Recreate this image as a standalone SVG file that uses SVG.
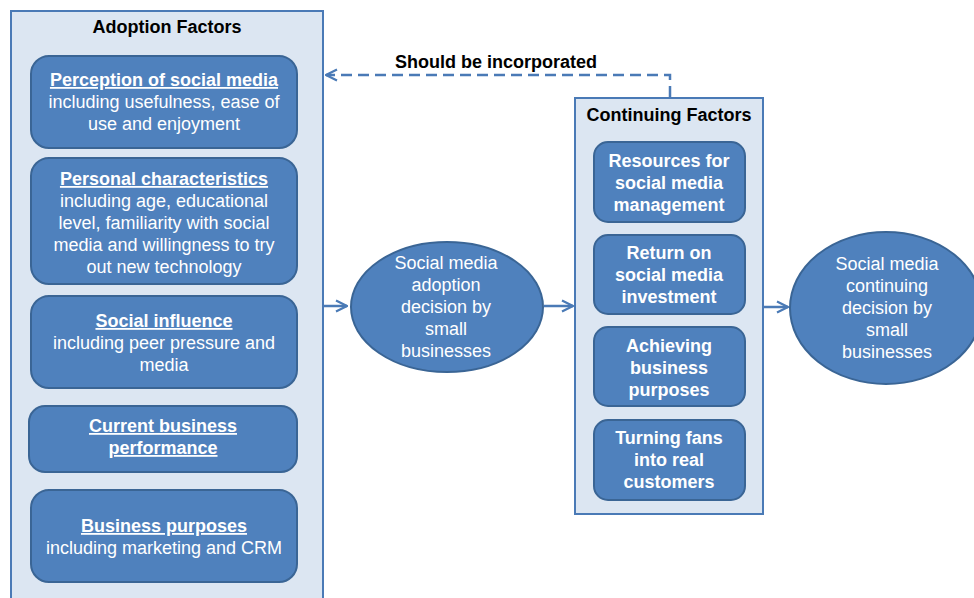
<svg xmlns="http://www.w3.org/2000/svg" width="974" height="598" viewBox="0 0 974 598">
  <style>
    .panel { fill: #dce6f2; stroke: #4a7ab6; stroke-width: 2; }
    .box { fill: #4f81bd; stroke: #3a6595; stroke-width: 2; }
    .oval { fill: #4f81bd; stroke: #3a6595; stroke-width: 2; }
    text { font-family: "Liberation Sans", Arial, sans-serif; font-size: 18px; text-anchor: middle; }
    .head { font-weight: bold; fill: #000; }
    .w { fill: #fff; }
    .b { font-weight: bold; }
    .u { font-weight: bold; text-decoration: underline; }
    .link { fill: none; stroke: #4a7ab6; stroke-width: 2.5; }
    .dash { stroke-dasharray: 11 6; }
  </style>
  <defs>
    <marker id="chev" viewBox="0 0 10 10" refX="9" refY="5" markerWidth="5.5" markerHeight="5.5" orient="auto" markerUnits="strokeWidth">
      <path d="M1,1 L9,5 L1,9" fill="none" stroke="#4a7ab6" stroke-width="1.6"/>
    </marker>
  </defs>

  <!-- Adoption factors panel -->
  <g id="adoption-factors">
    <rect class="panel" x="11" y="11" width="312" height="600"/>
    <text class="head" x="167" y="33">Adoption Factors</text>
  </g>
  <g id="perception">
    <rect class="box" x="31" y="56" width="266" height="92" rx="18"/>
    <text class="w u" x="164" y="86">Perception of social media</text>
    <text class="w" x="164" y="108">including usefulness, ease of</text>
    <text class="w" x="164" y="130">use and enjoyment</text>
  </g>
  <g id="personal">
    <rect class="box" x="31" y="158" width="266" height="126" rx="18"/>
    <text class="w u" x="164" y="185">Personal characteristics</text>
    <text class="w" x="164" y="207">including age, educational</text>
    <text class="w" x="164" y="229">level, familiarity with social</text>
    <text class="w" x="164" y="251">media and willingness to try</text>
    <text class="w" x="164" y="273">out new technology</text>
  </g>
  <g id="social-influence">
    <rect class="box" x="31" y="296" width="266" height="92" rx="18"/>
    <text class="w u" x="164" y="327">Social influence</text>
    <text class="w" x="164" y="349">including peer pressure and</text>
    <text class="w" x="164" y="371">media</text>
  </g>
  <g id="performance">
    <rect class="box" x="29" y="406" width="268" height="66" rx="16"/>
    <text class="w u" x="163" y="432">Current business</text>
    <text class="w u" x="163" y="454">performance</text>
  </g>
  <g id="purposes">
    <rect class="box" x="31" y="490" width="266" height="92" rx="18"/>
    <text class="w u" x="164" y="532">Business purposes</text>
    <text class="w" x="164" y="554">including marketing and CRM</text>
  </g>

  <!-- Decision ovals -->
  <g id="adoption-decision">
    <ellipse class="oval" cx="447" cy="307" rx="96" ry="65"/>
    <text class="w" x="446" y="269">Social media</text>
    <text class="w" x="446" y="291">adoption</text>
    <text class="w" x="446" y="313">decision by</text>
    <text class="w" x="446" y="335">small</text>
    <text class="w" x="446" y="357">businesses</text>
  </g>
  <g id="continuing-decision">
    <ellipse class="oval" cx="886" cy="308" rx="96" ry="76"/>
    <text class="w" x="887" y="270">Social media</text>
    <text class="w" x="887" y="292">continuing</text>
    <text class="w" x="887" y="314">decision by</text>
    <text class="w" x="887" y="336">small</text>
    <text class="w" x="887" y="358">businesses</text>
  </g>

  <!-- Continuing factors panel -->
  <g id="continuing-factors">
    <rect class="panel" x="575" y="98" width="188" height="416"/>
    <text class="head" x="669" y="121">Continuing Factors</text>
  </g>
  <g id="resources">
    <rect class="box" x="594" y="142" width="151" height="80" rx="14"/>
    <text class="w b" x="669" y="167">Resources for</text>
    <text class="w b" x="669" y="189">social media</text>
    <text class="w b" x="669" y="211">management</text>
  </g>
  <g id="return">
    <rect class="box" x="594" y="235" width="151" height="79" rx="14"/>
    <text class="w b" x="669" y="259">Return on</text>
    <text class="w b" x="669" y="281">social media</text>
    <text class="w b" x="669" y="303">investment</text>
  </g>
  <g id="achieving">
    <rect class="box" x="594" y="327" width="151" height="79" rx="14"/>
    <text class="w b" x="669" y="352">Achieving</text>
    <text class="w b" x="669" y="374">business</text>
    <text class="w b" x="669" y="396">purposes</text>
  </g>
  <g id="turning">
    <rect class="box" x="594" y="420" width="151" height="80" rx="14"/>
    <text class="w b" x="669" y="444">Turning fans</text>
    <text class="w b" x="669" y="466">into real</text>
    <text class="w b" x="669" y="488">customers</text>
  </g>

  <!-- Connectors -->
  <g id="connectors">
    <line class="link" x1="324" y1="306" x2="347" y2="306" marker-end="url(#chev)"/>
    <line class="link" x1="544" y1="306" x2="573" y2="306" marker-end="url(#chev)"/>
    <line class="link" x1="764" y1="307" x2="788" y2="307" marker-end="url(#chev)"/>
    <polyline class="link dash" points="670,97 670,75 326,75" marker-end="url(#chev)"/>
    <text class="head" x="496" y="68">Should be incorporated</text>
  </g>
</svg>
